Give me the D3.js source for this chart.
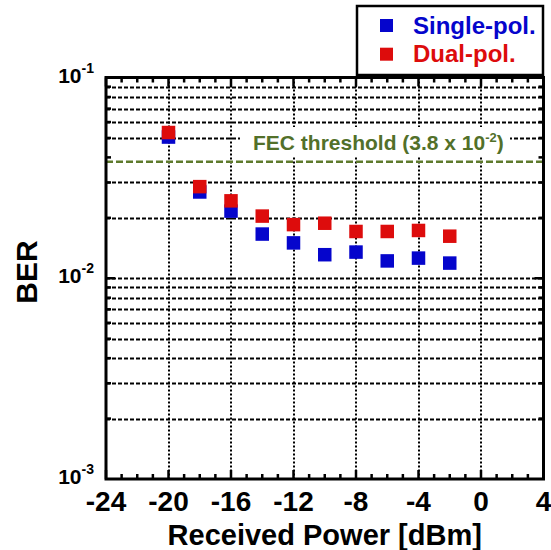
<!DOCTYPE html>
<html>
<head>
<meta charset="utf-8">
<script src="https://cdn.jsdelivr.net/npm/d3@7"></script>
<style>
  html, body { margin: 0; padding: 0; background: #fff; }
  svg { display: block; }
  text { font-family: "Liberation Sans", Arial, sans-serif; font-weight: bold; }
</style>
</head>
<body>
<svg id="chart" width="551" height="550"></svg>
<script>
// ---- Data ----
const power = [-20, -18, -16, -14, -12, -10, -8, -6, -4, -2];
const singlePol = [0.0505, 0.0269, 0.0216, 0.0166, 0.0150, 0.0131, 0.0135, 0.0122, 0.0126, 0.0119];
const dualPol = [0.0532, 0.0286, 0.0243, 0.0204, 0.0185, 0.0188, 0.0171, 0.0171, 0.0173, 0.0162];
const xTicks = [-24, -20, -16, -12, -8, -4, 0, 4];
const yMajorExp = [-1, -2, -3];
const fecThreshold = 0.038;
const seriesNames = ["Single-pol.", "Dual-pol."];
const seriesColors = ["#0505CC", "#DD0C0C"];

// ---- Layout ----
const svg = d3.select("#chart");
const L = 106, R = 543.5, T = 77.5, B = 479;
const x = d3.scaleLinear().domain([-24, 4]).range([L, R]);
const y = d3.scaleLog().domain([1e-3, 1e-1]).range([B, T]);

svg.append("rect").attr("width", 551).attr("height", 550).attr("fill", "#fff");

// minor log values
const yMinor = [];
for (const dec of [1e-3, 1e-2]) {
  for (let m = 2; m <= 9; m++) yMinor.push(m * dec);
}
const yGridVals = yMinor.filter(v => Math.abs(v - 0.04) > 1e-9).concat([1e-2]);

// horizontal grid
svg.append("g").selectAll("line").data(yGridVals).join("line")
  .attr("x1", L).attr("x2", R)
  .attr("y1", d => Math.round(y(d)) + 0.5).attr("y2", d => Math.round(y(d)) + 0.5)
  .attr("stroke", "#000").attr("stroke-width", 2).attr("stroke-dasharray", "4,2");

// vertical grid
svg.append("g").selectAll("line").data(xTicks.filter(v => v > -24 && v < 4)).join("line")
  .attr("x1", d => Math.round(x(d))).attr("x2", d => Math.round(x(d)))
  .attr("y1", T).attr("y2", B)
  .attr("stroke", "#000").attr("stroke-width", 2).attr("stroke-dasharray", "2,2");

// FEC label background + label
const fecG = svg.append("g");
fecG.append("rect").attr("x", 240).attr("y", 127).attr("width", 270).attr("height", 30).attr("fill", "#fff");
const fecText = fecG.append("text").attr("x", 253).attr("y", 150)
  .attr("fill", "#52702A").attr("font-size", 21);
fecText.append("tspan").text("FEC threshold (3.8 x 10");
fecText.append("tspan").attr("font-size", 13).attr("dy", -8).text("-2");
fecText.append("tspan").attr("dy", 8).text(")");

// FEC line
svg.append("line")
  .attr("x1", L).attr("x2", R)
  .attr("y1", y(fecThreshold)).attr("y2", y(fecThreshold))
  .attr("stroke", "#5E7A2C").attr("stroke-width", 2.5).attr("stroke-dasharray", "7,3");

// ticks: x minor/major on bottom & top
const xAll = d3.range(-24, 5, 1);
const tickG = svg.append("g").attr("stroke", "#000").attr("stroke-width", 2.5);
xAll.forEach(v => {
  const len = (v % 4 === 0) ? 9 : 5;
  tickG.append("line").attr("x1", x(v)).attr("x2", x(v)).attr("y1", B).attr("y2", B - len);
  tickG.append("line").attr("x1", x(v)).attr("x2", x(v)).attr("y1", T).attr("y2", T + len);
});
yMinor.concat([1e-2]).forEach(v => {
  const len = (Math.abs(v - 1e-2) < 1e-12) ? 9 : 5;
  tickG.append("line").attr("x1", L).attr("x2", L + len).attr("y1", y(v)).attr("y2", y(v));
  tickG.append("line").attr("x1", R).attr("x2", R - len).attr("y1", y(v)).attr("y2", y(v));
});

// data squares
const sz = 13.5;
const series = [singlePol, dualPol];
series.forEach((vals, si) => {
  svg.append("g").selectAll("rect").data(vals).join("rect")
    .attr("x", (d, i) => x(power[i]) - sz / 2)
    .attr("y", d => y(d) - sz / 2)
    .attr("width", sz).attr("height", sz)
    .attr("fill", seriesColors[si]);
});

// plot border
svg.append("rect").attr("x", L).attr("y", T).attr("width", R - L).attr("height", B - T)
  .attr("fill", "none").attr("stroke", "#000").attr("stroke-width", 3);

// x tick labels
svg.append("g").selectAll("text").data(xTicks).join("text")
  .attr("x", d => x(d)).attr("y", 511)
  .attr("text-anchor", "middle").attr("font-size", 28).attr("fill", "#000")
  .text(d => d);

// y tick labels
yMajorExp.forEach(e => {
  const t = svg.append("text").attr("x", 94).attr("y", y(Math.pow(10, e)) + 5)
    .attr("text-anchor", "end").attr("fill", "#000").attr("font-size", 21);
  t.append("tspan").text("10");
  t.append("tspan").attr("font-size", 14).attr("dy", -10).text(String(e));
});

// axis titles
svg.append("text").attr("x", (L + R) / 2).attr("y", 545)
  .attr("text-anchor", "middle").attr("font-size", 29).attr("fill", "#000")
  .text("Received Power [dBm]");
svg.append("text").attr("transform", "translate(37,272) rotate(-90)")
  .attr("text-anchor", "middle").attr("font-size", 30).attr("fill", "#000")
  .text("BER");

// legend
const lg = svg.append("g");
lg.append("rect").attr("x", 357).attr("y", 6).attr("width", 186).attr("height", 69)
  .attr("fill", "#fff").attr("stroke", "#000").attr("stroke-width", 2.5);
seriesNames.forEach((name, i) => {
  const cy = 25.5 + i * 28.7;
  lg.append("rect").attr("x", 380).attr("y", cy - 6.5).attr("width", 13).attr("height", 13)
    .attr("fill", seriesColors[i]);
  lg.append("text").attr("x", 413).attr("y", cy + 8).attr("font-size", 24)
    .attr("fill", seriesColors[i]).text(name);
});
</script>
</body>
</html>
